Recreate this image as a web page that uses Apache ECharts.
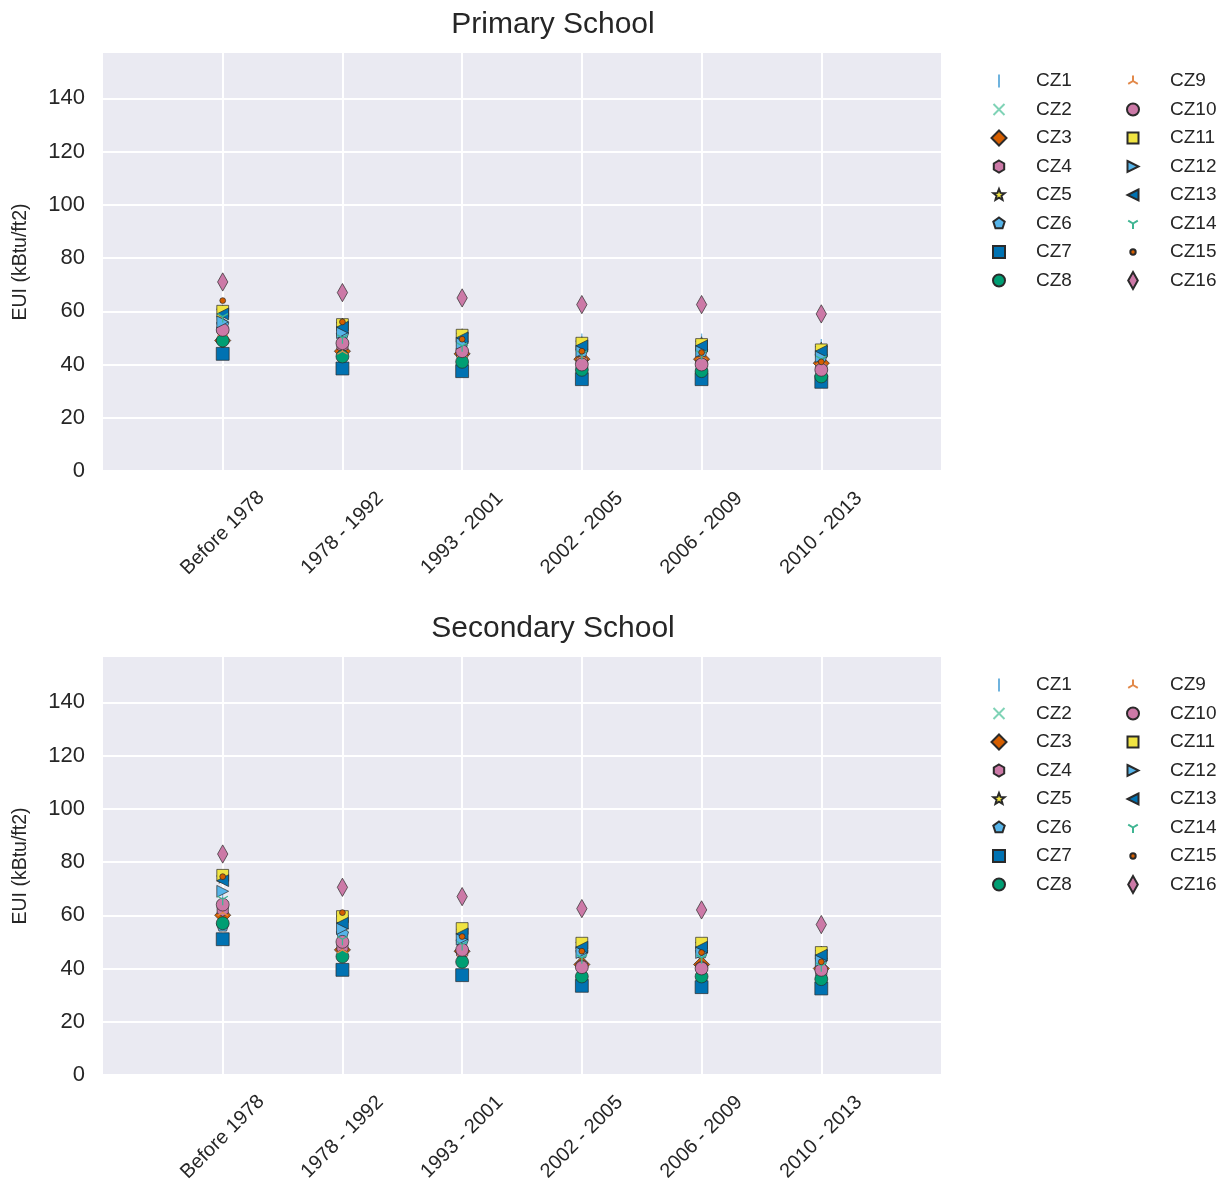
<!DOCTYPE html>
<html>
<head>
<meta charset="utf-8">
<script src="https://cdn.jsdelivr.net/npm/echarts@6/dist/echarts.min.js"></script>
<style>
  html, body { margin: 0; padding: 0; background: #ffffff; }
  #chart { width: 1225px; height: 1184px; }
</style>
</head>
<body>
<div id="chart"></div>
<script>
// Construction-period categories shared by both panels
const periods = ['Before 1978', '1978 - 1992', '1993 - 2001', '2002 - 2005', '2006 - 2009', '2010 - 2013'];
const zones = ['CZ1','CZ2','CZ3','CZ4','CZ5','CZ6','CZ7','CZ8','CZ9','CZ10','CZ11','CZ12','CZ13','CZ14','CZ15','CZ16'];
const yTicks = [0, 20, 40, 60, 80, 100, 120, 140];

// EUI (kBtu/ft2) per climate zone, one value per period – Primary School
const primaryCZ1  = [57, 50, 48, 49, 49, 47];
const primaryCZ2  = [55, 47, 45, 43, 43, 41];
const primaryCZ3  = [49, 45, 44, 42, 42, 40.5];
const primaryCZ4  = [53, 47, 44, 41, 40.5, 38.5];
const primaryCZ5  = [60, 55, 51, 48, 48, 46];
const primaryCZ6  = [55, 51, 48, 45, 45, 43];
const primaryCZ7  = [44, 38.5, 37.5, 34.5, 34.5, 33.5];
const primaryCZ8  = [49, 43, 41, 38, 37.5, 35.5];
const primaryCZ9  = [52, 45, 44, 43, 43, 41];
const primaryCZ10 = [53, 48, 45, 40, 40, 38];
const primaryCZ11 = [60, 55, 51, 48, 47.5, 45.5];
const primaryCZ12 = [56, 52, 48, 45, 45, 43];
const primaryCZ13 = [59, 54, 50, 47, 47, 45];
const primaryCZ14 = [58, 50, 47, 44, 44, 42];
const primaryCZ15 = [64, 56, 49.5, 45, 44.5, 41];
const primaryCZ16 = [71, 67, 65, 62.5, 62.5, 59];

// EUI (kBtu/ft2) per climate zone, one value per period – Secondary School
const secondaryCZ1  = [66, 54, 50, 47, 47, 44];
const secondaryCZ2  = [63, 52, 48, 44, 44, 41];
const secondaryCZ3  = [60, 47, 46.5, 41.5, 41.5, 40];
const secondaryCZ4  = [62, 48, 46, 41, 40.5, 38.5];
const secondaryCZ5  = [74, 59, 54, 49, 49, 46];
const secondaryCZ6  = [56, 53, 50, 46, 46, 43];
const secondaryCZ7  = [51, 39.5, 37.5, 33.5, 33, 32.5];
const secondaryCZ8  = [57, 44.5, 42.5, 37, 37, 36];
const secondaryCZ9  = [61, 47, 46, 42, 42, 40];
const secondaryCZ10 = [64, 50, 47, 40.5, 40, 39.5];
const secondaryCZ11 = [75, 59.5, 55, 49.5, 49.5, 46];
const secondaryCZ12 = [69, 55, 51, 46, 46, 43];
const secondaryCZ13 = [73, 57, 53, 48, 48, 45];
const secondaryCZ14 = [66, 51, 49, 44, 44, 41];
const secondaryCZ15 = [74.5, 61, 52, 46.5, 46, 42.5];
const secondaryCZ16 = [83, 70.5, 67, 62.5, 62, 56.5];

const primaryData = [primaryCZ1, primaryCZ2, primaryCZ3, primaryCZ4, primaryCZ5, primaryCZ6, primaryCZ7, primaryCZ8,
  primaryCZ9, primaryCZ10, primaryCZ11, primaryCZ12, primaryCZ13, primaryCZ14, primaryCZ15, primaryCZ16];
const secondaryData = [secondaryCZ1, secondaryCZ2, secondaryCZ3, secondaryCZ4, secondaryCZ5, secondaryCZ6, secondaryCZ7, secondaryCZ8,
  secondaryCZ9, secondaryCZ10, secondaryCZ11, secondaryCZ12, secondaryCZ13, secondaryCZ14, secondaryCZ15, secondaryCZ16];

// ---- marker shapes on a 20x20 canvas (the first two moves pin the box) ----
const BOX = 'M0 0 M20 20 ';
function polygon(n, r, startDeg) {
  let d = '';
  for (let i = 0; i < n; i++) {
    const a = (startDeg + i * 360 / n) * Math.PI / 180;
    d += (i ? 'L' : 'M') + (10 + r * Math.cos(a)).toFixed(2) + ' ' + (10 + r * Math.sin(a)).toFixed(2) + ' ';
  }
  return d + 'Z';
}
function star(r1, r2) {
  let d = '';
  for (let i = 0; i < 10; i++) {
    const r = i % 2 ? r2 : r1;
    const a = (-90 + i * 36) * Math.PI / 180;
    d += (i ? 'L' : 'M') + (10 + r * Math.cos(a)).toFixed(2) + ' ' + (10 + r * Math.sin(a)).toFixed(2) + ' ';
  }
  return d + 'Z';
}
function circle(r) {
  return 'M' + (10 - r) + ' 10 A' + r + ' ' + r + ' 0 1 1 ' + (10 + r) + ' 10 A' + r + ' ' + r + ' 0 1 1 ' + (10 - r) + ' 10 Z';
}
const shapes = {
  vline:   'M10 3.5 L10 16.5',
  cross:   'M4.5 4.5 L15.5 15.5 M15.5 4.5 L4.5 15.5',
  diamond: 'M10 2.5 L17.5 10 L10 17.5 L2.5 10 Z',
  hexagon: polygon(6, 6, -90),
  star:    star(6, 2.6),
  pentagon: polygon(5, 6, -90),
  square:  'M4 4 H16 V16 H4 Z',
  circle:  circle(6),
  triUp:   'M10 10 L10 4.5 M10 10 L5.2 12.8 M10 10 L14.8 12.8',
  square2: 'M4.5 4.5 H15.5 V15.5 H4.5 Z',
  triRight: 'M4.5 4.5 L15.5 10 L4.5 15.5 Z',
  triLeft:  'M15.5 4.5 L4.5 10 L15.5 15.5 Z',
  triDown: 'M10 10 L10 15.5 M10 10 L5.2 7.2 M10 10 L14.8 7.2',
  dot:     circle(2.7),
  thinDiamond: 'M10 1.5 L14.8 10 L10 18.5 L5.2 10 Z'
};

// colorblind palette cycle
const BLUE = '#0072B2', GREEN = '#009E73', VERM = '#D55E00', PINK = '#CC79A7', YELLOW = '#F0E442', SKY = '#56B4E9';

// per-zone marker style: shape, colour, and whether it is a stroked line marker
const zoneStyle = [
  { s: 'vline',    c: '#6fb3de', line: true },
  { s: 'cross',    c: '#7fd3b6', line: true },
  { s: 'diamond',  c: VERM },
  { s: 'hexagon',  c: PINK },
  { s: 'star',     c: YELLOW },
  { s: 'pentagon', c: SKY },
  { s: 'square',   c: BLUE },
  { s: 'circle',   c: GREEN },
  { s: 'triUp',    c: '#e2894a', line: true },
  { s: 'circle',   c: PINK },
  { s: 'square2',  c: YELLOW },
  { s: 'triRight', c: SKY },
  { s: 'triLeft',  c: BLUE },
  { s: 'triDown',  c: '#3fb592', line: true },
  { s: 'dot',      c: VERM },
  { s: 'thinDiamond', c: PINK }
];

const FONT = "'Liberation Sans', Arial, Helvetica, sans-serif";

function makeSeries(data, axisIndex) {
  return zones.map((name, k) => {
    const st = zoneStyle[k];
    return {
      name: name,
      type: 'scatter',
      xAxisIndex: axisIndex,
      yAxisIndex: axisIndex,
      symbol: 'path://' + BOX + shapes[st.s],
      symbolSize: 21.5,
      symbolKeepAspect: true,
      itemStyle: st.line
        ? { color: st.c, borderColor: st.c, borderWidth: 1.3, opacity: 1 }
        : { color: st.c, borderColor: '#2a2a2a', borderWidth: 0.7, opacity: 1 },
      emphasis: { disabled: true },
      data: data[k].map((v, i) => [i, v])
    };
  });
}

const grids = [
  { left: 103, width: 838, top: 53, height: 418 },
  { left: 103, width: 838, top: 657, height: 418 }
];

function xAxisFor(gi) {
  return {
    type: 'value', gridIndex: gi, min: -1, max: 6, interval: 1,
    axisLine: { show: false }, axisTick: { show: false },
    splitLine: { show: true, showMinLine: false, showMaxLine: false, lineStyle: { color: '#ffffff', width: 2 } },
    axisLabel: {
      rotate: 45, margin: 62, align: 'center', verticalAlign: 'middle',
      fontFamily: FONT, fontSize: 20, color: '#262626',
      formatter: v => (v >= 0 && v < periods.length ? periods[v] : '')
    }
  };
}
function yAxisFor(gi) {
  return {
    type: 'value', gridIndex: gi, min: yTicks[0], max: 157, interval: yTicks[1] - yTicks[0],
    name: 'EUI (kBtu/ft2)', nameLocation: 'middle', nameGap: 72, nameRotate: 90,
    nameTextStyle: { fontFamily: FONT, fontSize: 19.5, color: '#262626' },
    axisLine: { show: false }, axisTick: { show: false },
    splitLine: { show: true, showMaxLine: false, lineStyle: { color: '#ffffff', width: 2 } },
    axisLabel: { fontFamily: FONT, fontSize: 22, color: '#262626', margin: 18, showMaxLabel: false }
  };
}

function legendCol(names, left, top) {
  return {
    orient: 'vertical', left: left, top: top, data: names,
    itemWidth: 20, itemHeight: 20, itemGap: 6.5,
    selectedMode: false,
    textStyle: { fontFamily: FONT, fontSize: 19, lineHeight: 20, color: '#262626', padding: [0, 0, 0, 22] }
  };
}

const chart = echarts.init(document.getElementById('chart'), null, { renderer: 'canvas' });
chart.setOption({
  animation: false,
  backgroundColor: '#ffffff',
  title: [
    { text: 'Primary School', left: 548, top: 5, textAlign: 'center',
      textStyle: { fontFamily: FONT, fontSize: 30, fontWeight: 'normal', color: '#262626' } },
    { text: 'Secondary School', left: 548, top: 609, textAlign: 'center',
      textStyle: { fontFamily: FONT, fontSize: 30, fontWeight: 'normal', color: '#262626' } }
  ],
  grid: grids.map(g => Object.assign({
    backgroundColor: '#EAEAF2', show: true, borderWidth: 0,
    containLabel: false, outerBoundsMode: 'none'
  }, g)),
  xAxis: [xAxisFor(0), xAxisFor(1)],
  yAxis: [yAxisFor(0), yAxisFor(1)],
  legend: [
    legendCol(zones.slice(0, 8), 983, 65),
    legendCol(zones.slice(8), 1117, 65),
    legendCol(zones.slice(0, 8), 983, 669),
    legendCol(zones.slice(8), 1117, 669)
  ],
  series: makeSeries(primaryData, 0).concat(makeSeries(secondaryData, 1))
});
</script>
</body>
</html>
